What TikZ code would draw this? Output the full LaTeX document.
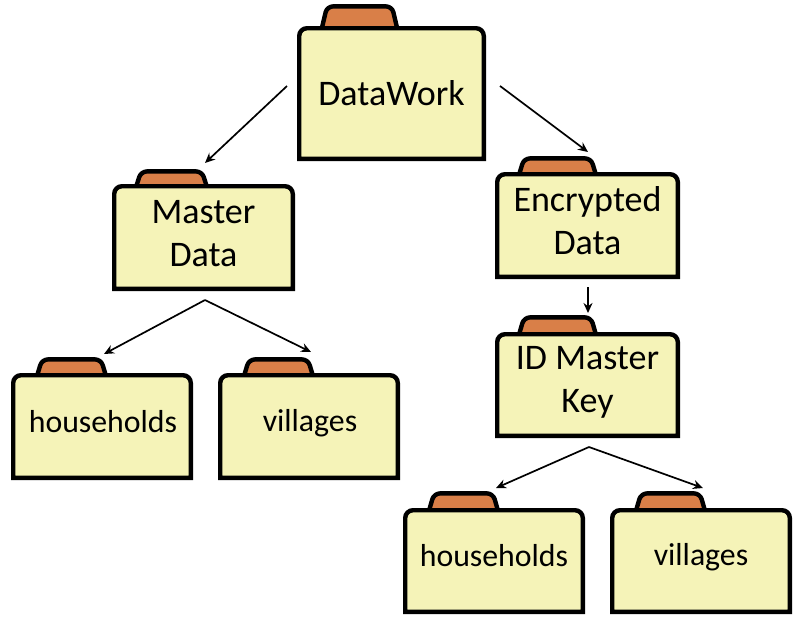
\documentclass[tikz,border=0pt]{standalone}
\usepackage{fontspec}
\setmainfont{Carlito}
\usetikzlibrary{arrows.meta}
\definecolor{folderfill}{HTML}{F5F3B8}
\definecolor{tabfill}{HTML}{D97F48}
\tikzset{
  folderline/.style={draw=black,line width=4.4pt},
  bodyshape/.style={folderline,fill=folderfill,line join=miter},
  tabshape/.style={folderline,fill=tabfill,line join=round},
  bigtext/.style={font=\fontsize{36}{43}\selectfont,align=center,text=black,inner sep=0pt,outer sep=0pt},
  smalltext/.style={font=\fontsize{31.8}{38}\selectfont,align=center,text=black,inner sep=0pt,outer sep=0pt},
  textdw/.style={bigtext},
  textmd/.style={bigtext,yshift=4pt},
  texted/.style={bigtext,yshift=5pt},
  textik/.style={bigtext,yshift=3pt},
  textha/.style={smalltext,yshift=5pt,xshift=1pt},
  textva/.style={smalltext,yshift=3pt,xshift=1pt},
  texthb/.style={smalltext,yshift=5pt},
  textvb/.style={smalltext,yshift=4pt},
  conn/.style={draw=black,line width=1.7pt,-{Stealth[length=10pt,width=9pt]}},
}
% name, left, top, right, bottom, tab left, tab right, tab top, text
\newcommand{\folderbox}[9]{%
  \path[tabshape,rounded corners=6pt] (#6-0.5,#3+8) -- (#6+6,#8+1.4) -- (#7-6,#8+1.4) -- (#7+0.5,#3+8) -- cycle;
  \path[bodyshape] (#2+2.2,#5-2.2) -- (#2+2.2,#3+10) arc[start angle=180,end angle=90,radius=7.8pt] -- (#4-10,#3+2.2) arc[start angle=90,end angle=0,radius=7.8pt] -- (#4-2.2,#5-2.2) -- cycle;
  \node[minimum width={(#4-#2)*1pt},minimum height={(#5-#3)*1pt},inner sep=0pt,outer sep=0pt,label={[text#1]center:#9}] (#1) at ({(#2+#4)/2},{(#3+#5)/2}) {};
}
\begin{document}
\begin{tikzpicture}[x=1pt,y=-1pt]
\useasboundingbox (0,0) rectangle (805,622);
\fill[white] (0,0) rectangle (805,622);
\folderbox{dw}{297}{26}{486}{161}{321}{398}{5}{DataWork}
\folderbox{md}{112}{184}{295}{291}{135}{208}{170}{Master\\Data}
\folderbox{ed}{495}{172}{680}{279}{518}{597}{157}{Encrypted\\Data}
\folderbox{ik}{495}{332}{680}{438}{518}{597}{316}{ID Master\\Key}
\folderbox{ha}{11}{373}{193}{480}{36}{107}{358}{households}
\folderbox{va}{218}{373}{400}{480}{243}{314}{358}{villages}
\folderbox{hb}{403}{508}{585}{614}{428}{499}{492}{households}
\folderbox{vb}{610}{508}{792}{614}{635}{706}{492}{villages}
\draw[conn] ([xshift=-10pt,yshift=7.5pt]dw.west) -- ([xshift=1.5pt,yshift=21pt]md.north);
\draw[conn] ([xshift=14pt,yshift=7.5pt]dw.east) -- ([xshift=0.5pt,yshift=20pt]ed.north);
\draw[conn] ([xshift=0.5pt,yshift=-8pt]ed.south) -- ([xshift=0.5pt,yshift=19pt]ik.north);
\draw[conn] ([xshift=1.5pt,yshift=-9pt]md.south) -- ([xshift=2pt,yshift=19pt]ha.north);
\draw[conn] ([xshift=1.5pt,yshift=-9pt]md.south) -- ([xshift=2pt,yshift=21pt]va.north);
\draw[conn] ([xshift=1.5pt,yshift=-9pt]ik.south) -- ([xshift=2pt,yshift=20pt]hb.north);
\draw[conn] ([xshift=1.5pt,yshift=-9pt]ik.south) -- ([xshift=2pt,yshift=20pt]vb.north);
\end{tikzpicture}
\end{document}
